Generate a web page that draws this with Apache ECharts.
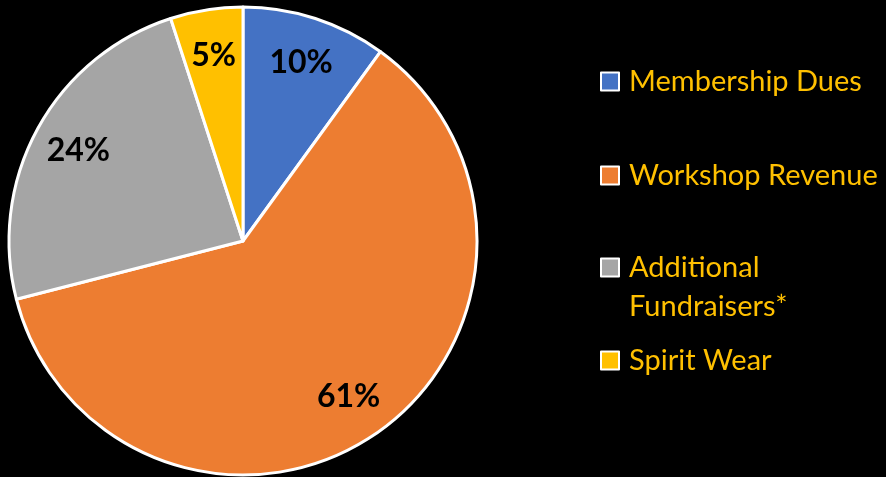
<!DOCTYPE html>
<html>
<head>
<meta charset="utf-8">
<script src="https://cdn.jsdelivr.net/npm/echarts@6/dist/echarts.min.js"></script>
<style>
  html, body { margin: 0; padding: 0; background: #000; }
  #chart { width: 886px; height: 477px; }
</style>
</head>
<body>
<div id="chart"></div>
<script>
// budget share by source (percent)
const categories = ['Membership Dues', 'Workshop Revenue', 'Additional Fundraisers*', 'Spirit Wear'];
const shares = [10, 61, 24, 5];
const colors = ['#4472C4', '#ED7D31', '#A5A5A5', '#FFC000'];

const FONT = 'Lato';
const center = [243, 241];
const R = 234;
const LINE = 39;

const pieData = categories.map((name, i) => ({
    name,
    value: shares[i],
    itemStyle: { color: colors[i] }
}));

// one legend per entry so the spacing can follow the original
// (the two-line entry gets an empty first line so its icon sits on "Additional")
const legendTops = [62, 156, 209, 341];
const legends = categories.map((name, i) => ({
    orient: 'vertical',
    left: 600,
    top: legendTops[i],
    padding: 0,
    data: [name],
    icon: 'rect',
    itemWidth: 18,
    itemHeight: 18,
    itemGap: 0,
    selectedMode: false,
    itemStyle: { borderColor: '#fff', borderWidth: 2 },
    textStyle: {
        color: '#FFC000',
        fontFamily: FONT,
        fontSize: 29,
        lineHeight: LINE,
        padding: [0, 0, 0, 5]
    },
    formatter: n => n === 'Additional Fundraisers*' ? ' \nAdditional\nFundraisers*' : n
}));

const chart = echarts.init(document.getElementById('chart'));
chart.setOption({
    backgroundColor: '#000',
    animation: false,
    legend: legends,
    series: [
        {
            type: 'pie',
            center,
            radius: [0, R],
            startAngle: 90,
            clockwise: true,
            silent: true,
            data: pieData,
            itemStyle: { borderColor: '#fff', borderWidth: 3 },
            label: { show: false },
            labelLine: { show: false }
        },
        {
            // transparent ring that only carries the percentage labels
            type: 'pie',
            center,
            radius: [R * 0.58, R],
            startAngle: 90,
            clockwise: true,
            silent: true,
            legendHoverLink: false,
            data: pieData.map(d => ({ name: d.name, value: d.value })),
            itemStyle: { color: 'rgba(0,0,0,0)', borderWidth: 0 },
            label: {
                show: true,
                position: 'inside',
                formatter: '{c}%',
                color: '#000',
                fontFamily: FONT,
                fontWeight: 'bold',
                fontSize: 32
            },
            labelLine: { show: false }
        }
    ]
});
</script>
</body>
</html>
